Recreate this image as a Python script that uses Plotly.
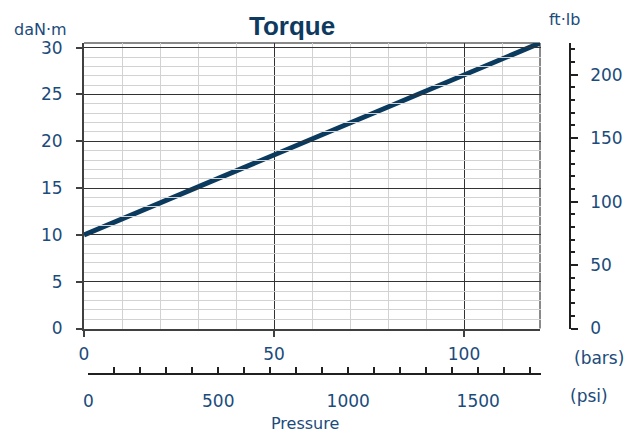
import plotly.graph_objects as go

# ---- data ----
pressure_bar = [0, 120]
torque_danm = [10, 30.5]
bar_ticks = [0, 50, 100]
torque_ticks = [0, 5, 10, 15, 20, 25, 30]
ftlb_ticks = [0, 50, 100, 150, 200]
psi_ticks = [0, 500, 1000, 1500]

DANM_TO_FTLB = 7.3756
BAR_TO_PSI = 14.5038
X_MAX = 120
Y_MAX = 30.5

TXT = "#1b4b7b"
DARK = "#0b3a5f"
FONT = "DejaVu Sans"

fig = go.Figure()
fig.add_trace(go.Scatter(x=pressure_bar, y=torque_danm, mode="lines",
                         line=dict(color=DARK, width=5), showlegend=False,
                         hoverinfo="skip", xaxis="x", yaxis="y"))
# helper (invisible) traces binding secondary axes
fig.add_trace(go.Scatter(x=[0, X_MAX * BAR_TO_PSI], y=[0, 0], mode="lines",
                         line=dict(width=0), opacity=0, showlegend=False,
                         hoverinfo="skip", xaxis="x2", yaxis="y"))
fig.add_trace(go.Scatter(x=[0, 0], y=[0, Y_MAX * DANM_TO_FTLB], mode="lines",
                         line=dict(width=0), opacity=0, showlegend=False,
                         hoverinfo="skip", xaxis="x", yaxis="y2"))

W, H = 630, 436
ML, MR, MT, MB = 84, 30, 43, 50
PW = W - ML - MR
PH = H - MT - MB

def px(x):
    return (x - ML) / PW

def py(y):
    return (H - MB - y) / PH

tickfont = dict(family=FONT, size=17, color=TXT)

fig.update_layout(
    width=W, height=H,
    margin=dict(l=ML, r=MR, t=MT, b=MB, autoexpand=False),
    paper_bgcolor="white", plot_bgcolor="rgba(0,0,0,0)",
    showlegend=False,
    xaxis=dict(domain=[0, px(540)], range=[0, X_MAX], tickvals=bar_ticks,
               showgrid=True, gridcolor="#333333", gridwidth=1,
               minor=dict(dtick=10, tick0=0, showgrid=True, gridcolor="#d2d2d2", gridwidth=1),
               zeroline=False, showline=True, linecolor="#404040", linewidth=2,
               ticks="outside", ticklen=6, tickcolor="#404040", tickwidth=1.5,
               tickfont=tickfont, ticklabelstandoff=3, anchor="y"),
    yaxis=dict(domain=[py(328.5), 1], range=[0, Y_MAX], tickvals=torque_ticks,
               showgrid=True, gridcolor="#333333", gridwidth=1,
               minor=dict(dtick=1, tick0=0, showgrid=True, gridcolor="#d2d2d2", gridwidth=1),
               zeroline=False, showline=True, linecolor="#404040", linewidth=2,
               ticks="outside", ticklen=6, tickcolor="#404040", tickwidth=1.5,
               tickfont=tickfont, ticklabelstandoff=10, anchor="x"),
    xaxis2=dict(domain=[px(88.3), px(540.7)], range=[0, X_MAX * BAR_TO_PSI],
                tickvals=psi_ticks, anchor="free", position=py(374),
                showgrid=False, zeroline=False, showline=True,
                linecolor="#202020", linewidth=1.5,
                ticks="inside", ticklen=6, tickcolor="#202020", tickwidth=1.5,
                minor=dict(dtick=100, tick0=0, ticks="inside", ticklen=6,
                           tickcolor="#202020", tickwidth=1.5, showgrid=False),
                tickfont=tickfont, ticklabelstandoff=12),
    yaxis2=dict(overlaying="y", side="right", anchor="free", position=px(570),
                range=[0, Y_MAX * DANM_TO_FTLB], tickvals=ftlb_ticks,
                showgrid=False, zeroline=False, showline=True,
                linecolor="#202020", linewidth=1.5,
                ticks="outside", ticklen=7, tickcolor="#202020", tickwidth=1.5,
                minor=dict(dtick=10, tick0=0, ticks="outside", ticklen=4,
                           tickcolor="#202020", tickwidth=1.5, showgrid=False),
                tickfont=tickfont, ticklabelstandoff=9),
)

# gray frame (top and right)
fig.add_shape(type="line", xref="x domain", yref="y domain", x0=0, x1=1, y0=1, y1=1,
              line=dict(color="#8a8a8a", width=2), layer="below")
fig.add_shape(type="line", xref="x domain", yref="y domain", x0=1, x1=1, y0=0, y1=1,
              line=dict(color="#8a8a8a", width=2), layer="below")

ann = [
    ("<b>Torque</b>", 291.5, 26.5, dict(family="Liberation Sans", size=26, color="#0d3a5e")),
    ("daN·m", 40, 29.5, dict(family=FONT, size=16, color=TXT)),
    ("ft·lb", 564, 19.5, dict(family=FONT, size=16, color=TXT)),
    ("(bars)", 599, 358, dict(family=FONT, size=17, color=TXT)),
    ("(psi)", 589, 395.5, dict(family=FONT, size=17, color=TXT)),
    ("Pressure", 305, 423, dict(family=FONT, size=16, color=TXT)),
]
for text, x, y, f in ann:
    fig.add_annotation(text=text, x=px(x), y=py(y), xref="paper", yref="paper",
                       xanchor="center", yanchor="middle", showarrow=False, font=f)

fig.write_html("out.html", config={"displayModeBar": False},
               post_script="document.body.style.margin='0px';document.body.style.overflow='hidden';")
